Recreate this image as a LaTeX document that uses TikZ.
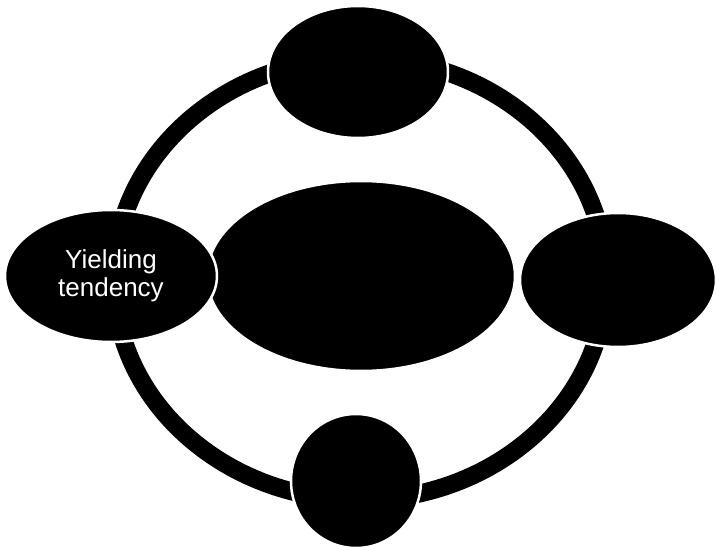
\documentclass[tikz,border=0pt]{standalone}
\usepackage{fontspec}
\setmainfont{Liberation Sans}
\usetikzlibrary{shapes.geometric}

\begin{document}
\begin{tikzpicture}[x=1pt, y=-1pt,
      ring/.style={line width=18pt, draw=black},
      blob/.style={ellipse, fill=black, draw=white, line width=2.5pt,
                   inner sep=0pt},
      blobtext/.style={text=white, align=center,
                       font=\fontsize{26}{28}\selectfont},
    ]
    \useasboundingbox (0,0) rectangle (716,548);

    % Outer ring
    \coordinate (hub) at (360,279);
    \draw[ring] (hub) ellipse [x radius=246, y radius=221];

    % Ellipses round the ring
    \node[blob, minimum width=180pt, minimum height=132pt] (top) at (358,72) {};
    \node[blob, minimum width=308pt, minimum height=190pt] (core) at (361,276) {};
    \node[blob, minimum width=196pt, minimum height=134pt] (east) at (618,280) {};
    \node[blob, minimum width=130pt, minimum height=134pt] (bottom) at (356,481) {};
    \node[blob, minimum width=212pt, minimum height=132pt,
          blobtext] (west) at (111,276) {Yielding\\tendency};
  \end{tikzpicture}
\end{document}
